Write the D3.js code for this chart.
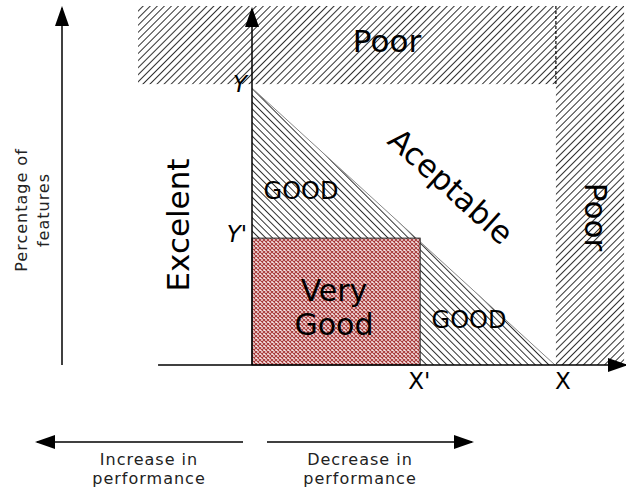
<!DOCTYPE html>
<html>
<head>
<meta charset="utf-8">
<script src="https://cdn.jsdelivr.net/npm/d3@7"></script>
<style>
  body { margin: 0; background: #fff; }
  svg { display: block; font-family: "DejaVu Sans", sans-serif; }
</style>
</head>
<body>
<div id="viz"></div>
<script>
// thresholds on the two axes (fractions of the X / Y limit)
let x_levels = [0.555, 1];
let x_labels = ["X'", "X"];
let y_levels = [0.458, 1];
let y_labels = ["Y'", "Y"];

// region outlines in the same units
let poor_top = [[-0.376, 1.014], [1.228, 1.296]];   // [x0,y0],[x1,y1]
let poor_right = [[1.003, 0], [1.228, 1.014]];
let good_triangle = [[0, 1], [0, 0], [1, 0]];
let very_good = [[0, 0], [0.555, 0.458]];

let region_names = ["Poor", "Poor", "Aceptable", "GOOD", "GOOD", "Very Good", "Excelent"];
let axis_names = ["Percentage of", "features"];
let bottom_names = [["Increase in", "performance"], ["Decrease in", "performance"]];

const width = 626, height = 493;

const x = d3.scaleLinear().domain([0, 1]).range([252, 555]);
const y = d3.scaleLinear().domain([0, 1]).range([365, 88]);

const svg = d3.select("#viz").append("svg")
    .attr("width", width)
    .attr("height", height);

const defs = svg.append("defs");

// hatch patterns
function hatch(id, angle, gap, col) {
    const p = defs.append("pattern")
        .attr("id", id)
        .attr("patternUnits", "userSpaceOnUse")
        .attr("width", gap).attr("height", gap)
        .attr("patternTransform", "rotate(" + angle + ")");
    p.append("line")
        .attr("x1", 0.5).attr("y1", 0).attr("x2", 0.5).attr("y2", gap)
        .attr("stroke", col).attr("stroke-width", 0.9);
}
hatch("hatch-fwd", 45, 5, "#1a1a1a");
hatch("hatch-back", -45, 4.8, "#1a1a1a");

// mesh for the very good box
const mesh = defs.append("pattern")
    .attr("id", "mesh")
    .attr("patternUnits", "userSpaceOnUse")
    .attr("width", 4).attr("height", 4);
mesh.append("rect").attr("width", 4).attr("height", 4).attr("fill", "#f6e6e6");
mesh.append("path")
    .attr("d", "M0,0L4,4M4,0L0,4")
    .attr("stroke", "#a83c3c").attr("stroke-width", 1.1);

// arrow heads
defs.append("marker")
    .attr("id", "head")
    .attr("viewBox", "0 -7 20 14")
    .attr("refX", 18).attr("refY", 0)
    .attr("markerUnits", "userSpaceOnUse")
    .attr("markerWidth", 20).attr("markerHeight", 14)
    .attr("orient", "auto")
    .append("path")
    .attr("d", "M0,-7L20,0L0,7Z")
    .attr("fill", "#000");

// Poor bands
function box(b) {
    return {x: x(b[0][0]), y: y(b[1][1]), w: x(b[1][0]) - x(b[0][0]), h: y(b[0][1]) - y(b[1][1])};
}
[poor_top, poor_right].forEach(function (b) {
    const r = box(b);
    svg.append("rect")
        .attr("x", r.x).attr("y", r.y).attr("width", r.w).attr("height", r.h)
        .attr("fill", "url(#hatch-fwd)");
});
svg.append("line")
    .attr("x1", x(poor_right[0][0])).attr("x2", x(poor_right[0][0]))
    .attr("y1", y(poor_top[1][1])).attr("y2", y(poor_top[0][1]))
    .attr("stroke", "#000").attr("stroke-width", 1.2)
    .attr("stroke-dasharray", "3,2");

// GOOD triangle
const line = d3.line().x(d => x(d[0])).y(d => y(d[1]));
svg.append("path")
    .attr("d", line(good_triangle) + "Z")
    .attr("fill", "url(#hatch-back)");
svg.append("line")
    .attr("x1", x(0)).attr("y1", y(1)).attr("x2", x(1)).attr("y2", y(0))
    .attr("stroke", "#888").attr("stroke-width", 1);

// Very Good box
const vg = box(very_good);
svg.append("rect")
    .attr("x", vg.x).attr("y", vg.y).attr("width", vg.w).attr("height", vg.h)
    .attr("fill", "url(#mesh)")
    .attr("stroke", "#222").attr("stroke-width", 1);

// main axes
svg.append("line")
    .attr("x1", x(0)).attr("y1", y(0)).attr("x2", x(0)).attr("y2", 9)
    .attr("stroke", "#000").attr("stroke-width", 1.5)
    .attr("marker-end", "url(#head)");
svg.append("line")
    .attr("x1", x(-0.31)).attr("y1", y(0)).attr("x2", 626).attr("y2", y(0))
    .attr("stroke", "#000").attr("stroke-width", 1.5)
    .attr("marker-end", "url(#head)");

// axis level labels
svg.selectAll(".ylab")
    .data(y_levels)
    .join("text")
    .attr("class", "ylab")
    .attr("x", 247)
    .attr("y", d => y(d) + 4)
    .attr("text-anchor", "end")
    .attr("font-size", 23)
    .attr("font-style", "italic")
    .text((d, i) => y_labels[i]);

svg.selectAll(".xlab")
    .data(x_levels)
    .join("text")
    .attr("class", "xlab")
    .attr("x", d => x(d) - 12 + (d === 1 ? 12 : 0))
    .attr("y", 389)
    .attr("font-size", 23)
    .text((d, i) => x_labels[i]);

// region names
svg.append("text")
    .attr("x", 387).attr("y", 52)
    .attr("text-anchor", "middle").attr("font-size", 31)
    .text(region_names[0]);

svg.append("text")
    .attr("transform", "translate(596,217) rotate(90)")
    .attr("text-anchor", "middle").attr("dy", "0.36em").attr("font-size", 31)
    .text(region_names[1]);

svg.append("text")
    .attr("transform", "translate(451,186) rotate(42)")
    .attr("text-anchor", "middle").attr("dy", "0.36em").attr("font-size", 31)
    .text(region_names[2]);

svg.append("text")
    .attr("x", 301).attr("y", 199)
    .attr("text-anchor", "middle").attr("font-size", 24)
    .text(region_names[3]);

svg.append("text")
    .attr("x", 469).attr("y", 328)
    .attr("text-anchor", "middle").attr("font-size", 24)
    .text(region_names[4]);

const vgt = svg.append("text")
    .attr("text-anchor", "middle").attr("font-size", 30);
region_names[5].split(" ").forEach(function (w, i) {
    vgt.append("tspan")
        .attr("x", 334).attr("y", 301 + i * 34)
        .text(w);
});

svg.append("text")
    .attr("transform", "translate(189,225) rotate(-90)")
    .attr("text-anchor", "middle").attr("font-size", 31)
    .text(region_names[6]);

// left axis: percentage of features
svg.append("line")
    .attr("x1", 62).attr("y1", 365).attr("x2", 62).attr("y2", 8)
    .attr("stroke", "#000").attr("stroke-width", 1.5)
    .attr("marker-end", "url(#head)");

axis_names.forEach(function (t, i) {
    svg.append("text")
        .attr("transform", "translate(" + (27 + i * 22) + ",210) rotate(-90)")
        .attr("text-anchor", "middle").attr("font-size", 16)
        .attr("letter-spacing", 1)
        .attr("fill", "#222")
        .text(t);
});

// bottom arrows
svg.append("line")
    .attr("x1", 243).attr("y1", 442).attr("x2", 37).attr("y2", 442)
    .attr("stroke", "#000").attr("stroke-width", 1.5)
    .attr("marker-end", "url(#head)");
svg.append("line")
    .attr("x1", 267).attr("y1", 442).attr("x2", 472).attr("y2", 442)
    .attr("stroke", "#000").attr("stroke-width", 1.5)
    .attr("marker-end", "url(#head)");

let bottom_cx = [149, 360];
bottom_names.forEach(function (lines, i) {
    lines.forEach(function (t, j) {
        svg.append("text")
            .attr("x", bottom_cx[i]).attr("y", 465 + j * 19)
            .attr("text-anchor", "middle").attr("font-size", 16)
            .attr("letter-spacing", 1)
            .attr("fill", "#222")
            .text(t);
    });
});
</script>
</body>
</html>
